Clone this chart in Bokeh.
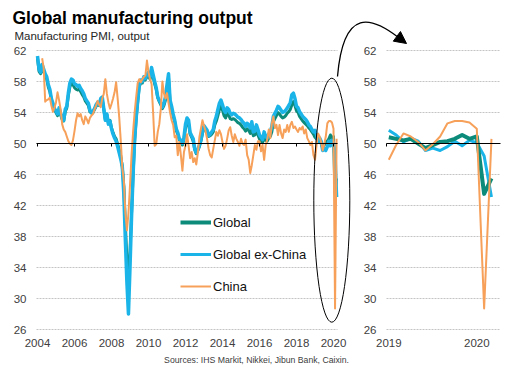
import numpy as np
from bokeh.plotting import figure
from bokeh.models import (Range1d, LinearAxis, FixedTicker, Label, Legend,
                          LegendItem, Arrow, NormalHead)
from bokeh.embed import file_html
from bokeh.resources import INLINE

# ---------------- data (monthly) ----------------
START_YEAR = 2004          # GLOBAL / EX_CHINA start Jan 2004
CHINA_START_MONTH = 4      # CHINA starts Apr 2004
ZOOM_START_YEAR = 2019     # right-hand panel starts Jan 2019

GLOBAL = [
    61.0, 59.3, 59.0, 59.9, 59.3, 58.7, 58.3, 57.3, 56.7, 55.6, 55.0, 54.4,  # 2004
    54.0, 53.6, 54.3, 53.7, 53.1, 52.9, 54.1, 54.6, 56.2, 57.3, 57.8, 57.6,  # 2005
    57.2, 57.0, 56.9, 57.0, 56.7, 56.3, 56.0, 55.5, 55.2, 54.9, 54.1, 53.9,  # 2006
    54.0, 54.4, 54.8, 55.1, 54.9, 55.6, 55.7, 54.4, 53.1, 53.7, 52.6, 53.0,  # 2007
    52.0, 51.4, 50.9, 50.6, 49.9, 49.2, 48.4, 47.0, 44.5, 39.5, 35.0, 33.0,  # 2008
    36.0, 41.0, 46.0, 50.3, 53.2, 55.4, 57.3, 57.9, 57.8, 58.3, 58.2, 58.6,  # 2009
    58.8, 58.3, 59.3, 58.6, 57.7, 57.0, 55.9, 55.4, 55.0, 54.5, 54.9, 55.6,  # 2010
    57.1, 58.4, 55.3, 54.5, 53.6, 52.8, 51.7, 51.2, 50.5, 50.2, 49.8, 50.6,  # 2011
    52.0, 52.8, 52.6, 51.2, 50.8, 50.3, 49.2, 48.7, 49.1, 49.6, 50.3, 51.3,  # 2012
    52.0, 51.8, 51.5, 50.9, 51.0, 51.2, 51.5, 52.4, 52.9, 53.6, 54.4, 54.8,  # 2013
    54.3, 53.6, 53.3, 53.9, 53.7, 53.2, 53.1, 53.2, 53.1, 52.9, 52.7, 52.6,  # 2014
    52.4, 52.1, 51.9, 51.6, 51.9, 51.7, 51.3, 51.9, 51.0, 51.1, 51.6, 51.1,  # 2015
    50.6, 50.3, 50.1, 50.9, 50.4, 50.3, 50.7, 50.9, 51.5, 52.8, 53.2, 53.6,  # 2016
    54.0, 53.8, 53.5, 53.3, 53.4, 53.6, 53.9, 54.1, 54.4, 55.0, 55.4, 54.9,  # 2017
    54.2, 54.0, 53.5, 53.2, 52.9, 52.7, 52.5, 52.3, 52.0, 51.8, 51.5, 51.2,  # 2018
    50.8, 50.6, 50.4, 50.6, 50.0, 49.4, 49.8, 50.2, 50.3, 50.6, 51.1, 50.6,  # 2019
    50.9, 43.5, 45.5,                                                        # 2020
]

EX_CHINA = [
    61.3, 59.6, 59.2, 60.2, 59.6, 59.0, 58.6, 57.6, 57.0, 55.8, 55.2, 54.5,  # 2004
    54.2, 53.8, 54.6, 53.9, 53.3, 53.0, 54.4, 54.8, 56.5, 57.8, 58.3, 58.2,  # 2005
    57.7, 57.6, 57.4, 57.5, 57.1, 56.8, 56.4, 55.8, 55.5, 55.2, 54.3, 54.0,  # 2006
    54.2, 54.5, 55.0, 55.3, 55.0, 55.8, 56.0, 54.5, 53.0, 53.8, 52.5, 52.9,  # 2007
    51.9, 51.2, 50.7, 50.3, 49.6, 48.8, 48.0, 47.0, 43.5, 37.5, 32.0, 28.0,  # 2008
    34.0, 40.5, 46.0, 50.5, 53.3, 55.5, 57.5, 58.2, 58.0, 58.6, 58.4, 58.9,  # 2009
    59.2, 58.6, 59.8, 58.9, 58.0, 57.2, 56.0, 55.6, 55.2, 54.7, 55.2, 56.0,  # 2010
    57.6, 59.0, 55.6, 54.8, 53.8, 53.0, 51.9, 51.4, 50.6, 50.4, 50.0, 50.8,  # 2011
    52.5, 53.3, 53.0, 51.4, 51.0, 50.6, 49.3, 48.8, 49.2, 49.8, 50.5, 51.5,  # 2012
    52.3, 52.0, 51.7, 51.0, 51.2, 51.5, 51.8, 52.9, 53.5, 54.4, 55.2, 55.6,  # 2013
    55.0, 54.3, 54.0, 54.6, 54.4, 53.9, 53.7, 53.9, 53.8, 53.6, 53.4, 53.3,  # 2014
    53.1, 52.8, 52.6, 52.2, 52.6, 52.4, 52.0, 52.8, 51.5, 51.6, 52.4, 51.8,  # 2015
    51.1, 50.8, 50.5, 51.5, 50.9, 50.7, 51.2, 51.5, 52.2, 53.5, 53.9, 54.3,  # 2016
    54.8, 54.6, 54.3, 54.0, 54.1, 54.3, 54.6, 54.9, 55.3, 56.3, 56.5, 55.8,  # 2017
    54.8, 54.6, 54.1, 53.8, 53.5, 53.3, 53.1, 52.8, 52.4, 52.2, 51.8, 51.5,  # 2018
    51.7, 51.1, 50.2, 50.7, 50.3, 49.1, 49.4, 49.1, 49.6, 50.3, 49.7, 50.4,  # 2019
    50.1, 48.4, 43.1,                                                        # 2020
]

CHINA = [
    61.0, 59.8, 55.4, 55.6, 55.7, 55.9, 54.9, 54.1, 54.6,                    # 2004 Apr-Dec
    55.3, 56.6, 55.6, 54.4, 52.5, 51.8, 51.5, 50.9, 50.3, 50.0, 49.8, 50.4,  # 2005
    51.6, 53.0, 53.9, 53.5, 53.8, 53.0, 52.5, 53.5, 53.1, 52.6, 53.3, 53.6,  # 2006
    53.8, 54.4, 54.9, 55.5, 55.0, 54.7, 55.8, 56.4, 58.3, 56.4, 55.3, 54.5,  # 2007
    55.1, 55.8, 56.6, 57.9, 55.8, 53.4, 50.4, 46.9, 45.2, 41.0, 38.8, 41.0,  # 2008
    44.6, 48.5, 51.5, 54.0, 56.0, 57.8, 58.3, 57.9, 58.3, 58.6, 58.8, 60.7,  # 2009
    59.2, 58.3, 57.7, 54.0, 49.7, 49.9, 51.5, 52.5, 54.5, 58.0, 56.5, 55.8,  # 2010
    56.5, 55.2, 54.0, 53.0, 52.4, 50.8, 51.0, 48.5, 50.2, 48.5, 46.5, 48.9,  # 2011
    49.7, 51.2, 49.7, 48.1, 48.9, 47.6, 48.1, 47.3, 48.8, 50.8, 51.9, 53.0,  # 2012
    52.3, 51.6, 50.6, 49.3, 48.5, 48.2, 49.3, 50.4, 51.5, 51.0, 51.7, 51.2,  # 2013
    50.2, 49.3, 49.7, 50.6, 51.7, 52.1, 51.0, 50.2, 51.2, 50.6, 50.2, 49.7,  # 2014
    50.6, 50.0, 49.8, 50.5, 48.5, 47.9, 46.2, 47.2, 48.5, 49.8, 49.2, 50.3,  # 2015
    50.3, 49.0, 49.8, 47.9, 49.8, 50.5, 51.8, 50.7, 52.6, 53.5, 52.0, 52.4,  # 2016
    51.1, 52.4, 51.3, 50.7, 51.8, 51.5, 52.4, 51.5, 52.4, 52.8, 52.0, 52.2,  # 2017
    51.8, 51.5, 52.0, 51.8, 52.2, 51.3, 51.8, 50.7, 50.3, 49.8, 50.2, 48.5,  # 2018
    47.9, 49.8, 51.3, 50.9, 50.2, 49.1, 49.9, 50.9, 52.6, 52.9, 52.9, 52.7,  # 2019
    51.9, 28.7, 50.6,                                                        # 2020
]

SERIES_NAMES = ["Global", "Global ex-China", "China"]
X_TICKS_LEFT = [2004, 2006, 2008, 2010, 2012, 2014, 2016, 2018, 2020]
X_TICKS_RIGHT = [2019, 2020]
Y_TICKS = [26, 30, 34, 38, 42, 46, 50, 54, 58, 62]
REF_LEVEL = 50

TITLE = "Global manufacturing output"
SUBTITLE = "Manufacturing  PMI, output"
SOURCE = "Sources: IHS Markit, Nikkei, Jibun Bank, Caixin."

# ---------------- styling / layout ----------------
TEAL, BLUE, ORANGE = "#0C8B7B", "#1AB4E8", "#F6A05A"
FONT = "Liberation Sans"
W, H = 515, 367
L_PX_PER_YEAR, L_X0_PX = 18.5, 37.0     # left panel scale (px of Jan 2004)
R_PX_PER_YEAR, R_X0_PX = 88.0, 388.3    # right panel scale (px of Jan 2019)
PX_PER_PT, Y50_PX = 7.75, 143.0         # vertical scale (px of level 50)

x_range = Range1d(START_YEAR - L_X0_PX / L_PX_PER_YEAR,
                  START_YEAR + (W - L_X0_PX) / L_PX_PER_YEAR)
r_range = Range1d(ZOOM_START_YEAR - R_X0_PX / R_PX_PER_YEAR,
                  ZOOM_START_YEAR + (W - R_X0_PX) / R_PX_PER_YEAR)
y_range = Range1d(REF_LEVEL - (H - Y50_PX) / PX_PER_PT,
                  REF_LEVEL + Y50_PX / PX_PER_PT)


def lx(px):
    return x_range.start + px / L_PX_PER_YEAR


def rx(px):
    return r_range.start + px / R_PX_PER_YEAR


def vy(py):
    return y_range.end - py / PX_PER_PT


L_LEFT, L_RIGHT = lx(36), lx(337)
R_LEFT, R_RIGHT = rx(386), rx(500)

p = figure(width=W, height=H, x_range=x_range, y_range=y_range,
           output_backend="svg", toolbar_location=None,
           x_axis_location=None, y_axis_location=None, min_border=0,
           outline_line_color=None, background_fill_color="white",
           border_fill_color="white")
p.extra_x_ranges = {"r": r_range}
for g in p.grid:
    g.visible = False

# grid lines for both panels
grid_ys = [[v, v] for v in Y_TICKS]
p.multi_line(xs=[[L_LEFT, L_RIGHT]] * len(Y_TICKS), ys=grid_ys,
             line_color="#c4c4c4", line_width=1, line_dash="2 1")
p.multi_line(xs=[[R_LEFT, R_RIGHT]] * len(Y_TICKS), ys=grid_ys,
             line_color="#c4c4c4", line_width=1, line_dash="2 1",
             x_range_name="r")


def label_axis(**kw):
    return LinearAxis(axis_line_color=None, major_tick_line_color=None,
                      minor_tick_line_color=None, major_tick_out=0,
                      major_tick_in=0, major_label_text_font=FONT,
                      major_label_text_font_size="11.5px",
                      major_label_text_color="#404040", **kw)


p.add_layout(label_axis(ticker=FixedTicker(ticks=Y_TICKS), fixed_location=L_LEFT,
                        major_label_standoff=10), "left")
p.add_layout(label_axis(ticker=FixedTicker(ticks=Y_TICKS), fixed_location=R_LEFT,
                        x_range_name="r", major_label_standoff=10), "left")
p.add_layout(label_axis(ticker=FixedTicker(ticks=X_TICKS_LEFT), fixed_location=Y_TICKS[0],
                        major_label_standoff=9), "below")
p.add_layout(label_axis(ticker=FixedTicker(ticks=X_TICKS_RIGHT), fixed_location=Y_TICKS[0],
                        x_range_name="r", major_label_standoff=9), "below")


def ref_axis(ticks, bounds, **kw):
    return LinearAxis(ticker=FixedTicker(ticks=ticks), fixed_location=REF_LEVEL,
                      bounds=bounds, axis_line_color="black", axis_line_width=1,
                      major_tick_line_color="black", major_tick_out=3,
                      major_tick_in=0, minor_tick_line_color=None,
                      major_label_text_color=None, **kw)


p.add_layout(ref_axis(X_TICKS_LEFT, (L_LEFT, L_RIGHT)), "below")
p.add_layout(ref_axis([R_LEFT], (R_LEFT, R_RIGHT), x_range_name="r"), "below")

# series
x_all = START_YEAR + np.arange(len(GLOBAL)) / 12.0
x_ch = START_YEAR + (CHINA_START_MONTH - 1 + np.arange(len(CHINA))) / 12.0
k = (ZOOM_START_YEAR - START_YEAR) * 12
kc = k - (CHINA_START_MONTH - 1)
g_arr, e_arr, c_arr = np.array(GLOBAL), np.array(EX_CHINA), np.array(CHINA)

p.line(x_all, g_arr, line_color=TEAL, line_width=3, line_join="round")
p.line(x_all, e_arr, line_color=BLUE, line_width=3.5, line_join="round")
p.line(x_ch, c_arr, line_color=ORANGE, line_width=2, line_join="round")

rb = p.line(x_all[k:], e_arr[k:], line_color=BLUE, line_width=3, x_range_name="r", line_join="round")
rt = p.line(x_all[k:], g_arr[k:], line_color=TEAL, line_width=4, x_range_name="r", line_join="round")
ro = p.line(x_ch[kc:], c_arr[kc:], line_color=ORANGE, line_width=2, x_range_name="r", line_join="round")

# ellipse + curved arrow annotation
p.ellipse(x=[lx(331.3)], y=[vy(199.7)], width=[36 / L_PX_PER_YEAR],
          height=[244 / PX_PER_PT], fill_color=None, line_color="black", line_width=1)
p.bezier(x0=[lx(337)], y0=[vy(76)], cx0=[lx(343)], cy0=[vy(5)],
         cx1=[lx(372)], cy1=[vy(17)], x1=[lx(398)], y1=[vy(37)],
         line_color="black", line_width=1.3)
p.add_layout(Arrow(end=NormalHead(size=12, fill_color="black", line_color="black"),
                   x_start=lx(397), y_start=vy(36.3), x_end=lx(406), y_end=vy(43),
                   line_color="black", line_width=1.3))

# legend
legend = Legend(items=[LegendItem(label=SERIES_NAMES[0], renderers=[rt]),
                       LegendItem(label=SERIES_NAMES[1], renderers=[rb]),
                       LegendItem(label=SERIES_NAMES[2], renderers=[ro])],
                location=(180, H - 296), glyph_width=31, glyph_height=20,
                label_height=20, label_standoff=2, spacing=12, padding=0,
                margin=0, border_line_color=None, background_fill_alpha=0,
                label_text_font=FONT, label_text_font_size="13px",
                label_text_color="#111111")
p.add_layout(legend)

# texts
p.add_layout(Label(x=12, y=H - 17.3, x_units="screen", y_units="screen", text=TITLE,
                   text_font=FONT, text_font_style="bold", text_font_size="17.5px",
                   text_color="black", text_baseline="alphabetic"))
p.add_layout(Label(x=14, y=H - 35, x_units="screen", y_units="screen", text=SUBTITLE,
                   text_font=FONT, text_font_size="11.5px", text_color="#262626",
                   text_baseline="alphabetic"))
p.add_layout(Label(x=348.5, y=H - 359.5, x_units="screen", y_units="screen", text=SOURCE,
                   text_font=FONT, text_font_size="8.7px", text_color="#404040",
                   text_align="right", text_baseline="alphabetic"))

open("out.html", "w").write(file_html(p, INLINE))
